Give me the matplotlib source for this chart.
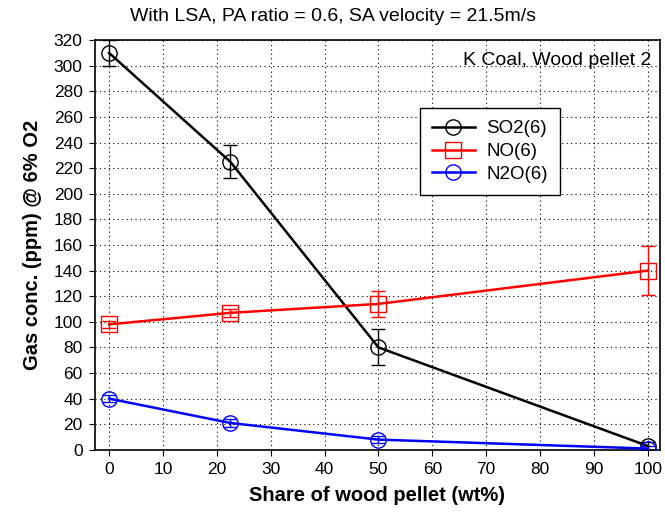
import matplotlib
matplotlib.use("Agg")
import matplotlib.pyplot as plt
from matplotlib.lines import Line2D

plt.rcParams['font.family'] = ['Liberation Sans', 'DejaVu Sans']

share = [0, 22.5, 50, 100]
so2 = [310, 225, 80, 3]
so2_err = [10, 13, 14, 3]
no = [98, 107, 114, 140]
no_err = [3, 3, 10, 19]
n2o = [40, 21, 8, 1]
n2o_err = [3, 3, 3, 2]

xticks = list(range(0, 101, 10))
yticks = list(range(0, 321, 20))

fig = plt.figure(figsize=(6.65, 5.28), dpi=100)
ax = fig.add_axes([0.143, 0.148, 0.849, 0.776])

series = [
    (so2, so2_err, 'black', 'o', 'SO2(6)'),
    (no, no_err, 'red', 's', 'NO(6)'),
    (n2o, n2o_err, 'blue', 'o', 'N2O(6)'),
]
handles = []
for vals, errs, c, m, lab in series:
    ax.errorbar(share, vals, yerr=errs, color=c, marker=m, markersize=11,
                markerfacecolor='none', markeredgecolor=c, markeredgewidth=1.0,
                linewidth=1.8, elinewidth=1.0, capsize=5, capthick=1.0,
                zorder=3)
    handles.append(Line2D([], [], color=c, marker=m, markersize=11,
                          markerfacecolor='none', markeredgecolor=c,
                          markeredgewidth=1.0, linewidth=1.8, label=lab))

ax.set_xlim(-2.6, 102.2)
ax.set_ylim(0, 320)
ax.set_xticks(xticks)
ax.set_yticks(yticks)
ax.tick_params(labelsize=12.5, direction='out', length=4, pad=5)
ax.grid(True, linestyle=(0, (1, 3)), color='black', linewidth=0.8)
ax.set_axisbelow(True)
for s in ax.spines.values():
    s.set_linewidth(1.2)

ax.set_xlabel('Share of wood pellet (wt%)', fontsize=14.5, fontweight='bold',
              labelpad=6)
ax.set_ylabel('Gas conc. (ppm) @ 6% O2', fontsize=14.5, fontweight='bold',
              labelpad=8)
fig.text(0.5, 0.968, 'With LSA, PA ratio = 0.6, SA velocity = 21.5m/s',
         ha='center', va='center', fontsize=14)
ax.text(0.985, 0.95, 'K Coal, Wood pellet 2', transform=ax.transAxes,
        ha='right', va='center', fontsize=14)

leg = ax.legend(handles=handles, loc='upper left',
                bbox_to_anchor=(0.575, 0.834), fontsize=13.5,
                frameon=True, fancybox=False, edgecolor='black',
                framealpha=1, handlelength=2.3, borderpad=0.65,
                labelspacing=0.3, handletextpad=0.6, borderaxespad=0)
leg.get_frame().set_linewidth(1.0)

fig.savefig('out.png', dpi=100)
